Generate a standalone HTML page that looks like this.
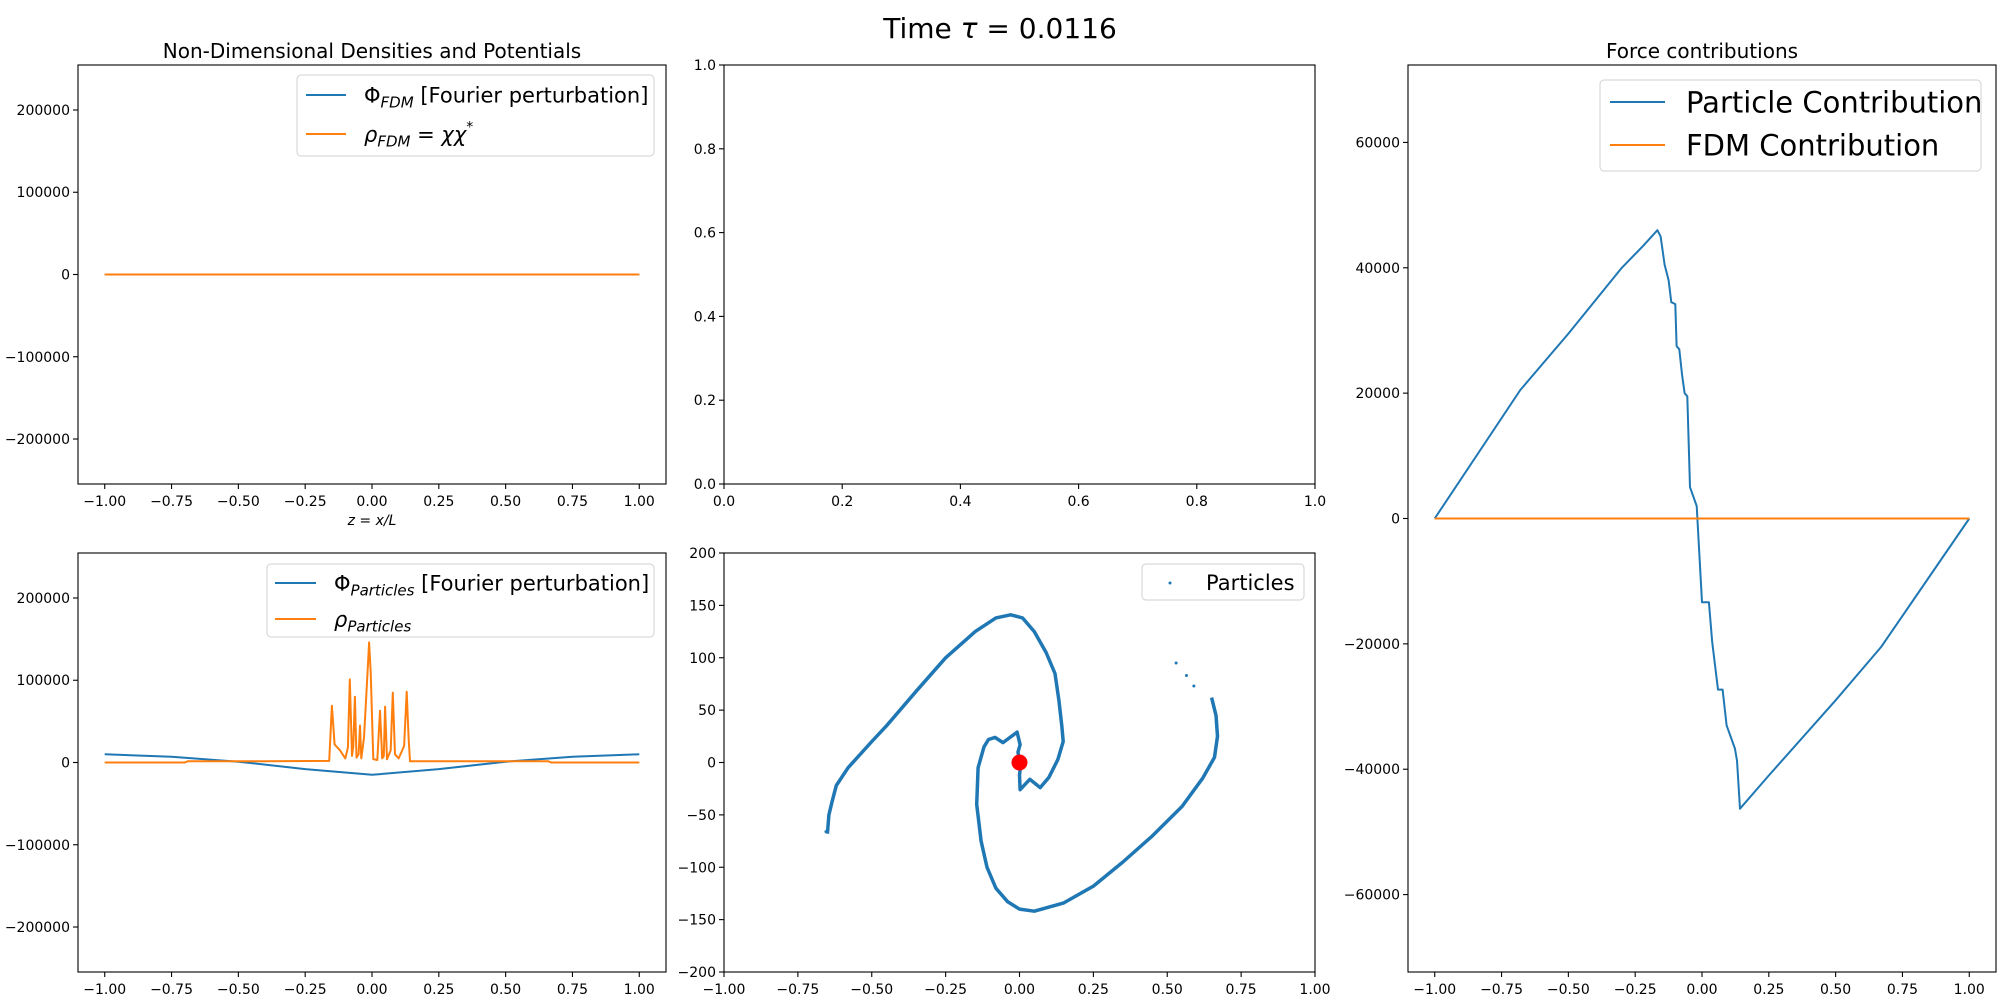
<!DOCTYPE html>
<html><head><meta charset="utf-8">
<style>
html,body{margin:0;padding:0;background:#fff;}
svg{display:block;font-family:"DejaVu Sans","Liberation Sans",sans-serif;}
</style></head>
<body>
<svg id="fig" width="2000" height="1000" viewBox="0 0 2000 1000" xmlns="http://www.w3.org/2000/svg">
<rect width="2000" height="1000" fill="#fff"/>
<text x="1000" y="38" font-size="28" text-anchor="middle">Time <tspan font-style="italic">τ</tspan> = 0.0116</text>
<text x="372" y="58" font-size="20" text-anchor="middle">Non-Dimensional Densities and Potentials</text>
<text x="1702" y="58" font-size="20" text-anchor="middle">Force contributions</text>
<text x="372" y="525" font-size="14" text-anchor="middle" font-style="italic">z = x/L</text>
<g id="layer"></g>
</svg>
<script>
// ---- data ----
const fdmX = [-1, 1];
const fdmPhi = [0, 0];
const fdmRho = [0, 0];
const partPhiX = [-1,-0.75,-0.5,-0.25,0,0.25,0.5,0.75,1];
const partPhiY = [10000,7000,1000,-8000,-15000,-8000,1000,7000,10000];
const partRhoX = [-1,-0.7,-0.69,-0.4,-0.16,-0.15,-0.14,-0.12,-0.1,-0.09,-0.083,-0.075,-0.07,-0.064,-0.058,-0.05,-0.045,-0.04,-0.03,-0.015,-0.011,-0.005,0.005,0.02,0.03,0.038,0.044,0.049,0.056,0.07,0.078,0.086,0.1,0.12,0.13,0.137,0.142,0.3,0.66,0.67,1];
const partRhoY = [0,0,1500,1500,2000,69000,22000,15000,5000,18000,101000,8000,20000,80000,6000,10000,45000,5000,30000,120000,146000,110000,4000,3000,63000,5000,8000,68000,4000,15000,85000,10000,5000,20000,86000,30000,1500,1500,1500,0,0];
const forceX = [-1,-0.68,-0.5,-0.3,-0.22,-0.167,-0.155,-0.14,-0.125,-0.115,-0.1,-0.095,-0.085,-0.075,-0.065,-0.055,-0.045,-0.02,0,0.026,0.038,0.06,0.077,0.092,0.123,0.131,0.142,0.25,0.5,0.67,1];
const forceP = [0,20500,29500,40000,43500,46000,45000,40500,38000,34500,34200,27500,27000,23000,20000,19500,5000,2000,-13350,-13350,-19700,-27300,-27300,-33000,-36700,-38600,-46300,-41000,-29000,-20500,0];
const forceFDMX = [-1, 1];
const forceFDM = [0, 0];
const arm1X = [-0.65,-0.645,-0.635,-0.62,-0.58,-0.5,-0.45,-0.35,-0.25,-0.15,-0.08,-0.03,0.01,0.05,0.09,0.12,0.133,0.143,0.148,0.13,0.1,0.07,0.035,0.002,0.0,0.005];
const arm1Y = [-68,-50,-38,-22,-5,20,35,68,100,125,138,141,138,125,105,85,60,35,20,3,-14,-24,-16,-26,-12,0];
const arm2X = [0.65,0.665,0.67,0.66,0.62,0.55,0.45,0.35,0.25,0.15,0.05,0.0,-0.04,-0.08,-0.11,-0.13,-0.145,-0.14,-0.12,-0.105,-0.083,-0.056,-0.008,0.002,-0.005,0];
const arm2Y = [62,45,25,5,-15,-42,-70,-95,-118,-134,-142,-140,-133,-120,-100,-75,-40,-5,15,22,24,19,29,17,10,0];
const strayX = [0.53,0.565,0.59,-0.648,-0.655];
const strayY = [95,83,73,-60,-66];
const centerX = [0];
const centerY = [0];
const leftYTicks = [-200000,-100000,0,100000,200000];
const lrXTicks = [-1,-0.75,-0.5,-0.25,0,0.25,0.5,0.75,1];
const midTopTicks = [0,0.2,0.4,0.6,0.8,1];
const midBotYTicks = [-200,-150,-100,-50,0,50,100,150,200];
const rightYTicks = [-60000,-40000,-20000,0,20000,40000,60000];

const NS = "http://www.w3.org/2000/svg";
const layer = document.getElementById('layer');
function mk(tag, attrs, parent){const e=document.createElementNS(NS,tag);for(const k in attrs)e.setAttribute(k,attrs[k]);(parent||layer).appendChild(e);return e;}
function fmt(v, d){return (v<0?'\u2212':'')+Math.abs(v).toFixed(d);}

function axes(name, x0,x1,y0,y1, xmin,xmax,ymin,ymax, xt, xd, yt, yd){
  const g = mk('g',{});
  
  
  const sx=v=>x0+(v-xmin)/(xmax-xmin)*(x1-x0);
  const sy=v=>y1-(v-ymin)/(ymax-ymin)*(y1-y0);
  const plot = mk('g',{},g);
  xt.forEach(v=>{const X=sx(v);
    const t=mk('line',{x1:X,x2:X,y1:y1,y2:y1+5,stroke:'#000','stroke-width':1.1},g);
    
    
    const l=mk('text',{x:X,y:y1+22,'font-size':14,'text-anchor':'middle'},g);l.textContent=fmt(v,xd);
    
    });
  yt.forEach(v=>{const Y=sy(v);
    const t=mk('line',{x1:x0-5,x2:x0,y1:Y,y2:Y,stroke:'#000','stroke-width':1.1},g);
    
    
    const l=mk('text',{x:x0-8,y:Y+5,'font-size':14,'text-anchor':'end'},g);l.textContent=fmt(v,yd);
    
    });
  const fr=mk('rect',{x:x0,y:y0,width:x1-x0,height:y1-y0,fill:'none',stroke:'#000','stroke-width':1.1},g);
  
  
  return {g:plot,sx,sy};
}
function line(ax, xs, ys, color, name, w){
  const p = xs.map((x,i)=>ax.sx(x).toFixed(1)+','+ax.sy(ys[i]).toFixed(1)).join(' ');
  const e = mk('polyline',{points:p,fill:'none',stroke:color,'stroke-width':w||2,'stroke-linejoin':'round'},ax.g);
  
  
}
const B='#1f77b4', O='#ff7f0e';

const a1 = axes('fdm-axes',78,666,65,484,-1.1,1.1,-254700,254700,lrXTicks,2,leftYTicks,0);
line(a1, fdmX, fdmPhi, B, 'phi-fdm-line');
line(a1, fdmX, fdmRho, O, 'rho-fdm-line');

const a2 = axes('particles-axes',78,666,553,972,-1.1,1.1,-254700,254700,lrXTicks,2,leftYTicks,0);
line(a2, partPhiX, partPhiY, B, 'phi-particles-line');
line(a2, partRhoX, partRhoY, O, 'rho-particles-line');

axes('empty-axes',724,1315,65,484,0,1,0,1,midTopTicks,1,midTopTicks,1);

const a4 = axes('phase-space-axes',724,1315,553,972,-1,1,-200,200,lrXTicks,2,midBotYTicks,0);
line(a4, arm1X, arm1Y, B, 'particles-arm-1', 3.5);
line(a4, arm2X, arm2Y, B, 'particles-arm-2', 3.5);
strayX.forEach((x,i)=>{const c=mk('circle',{cx:a4.sx(x),cy:a4.sy(strayY[i]),r:1.5,fill:B},a4.g);
  
  });
centerX.forEach((x,i)=>{const c=mk('circle',{cx:a4.sx(x),cy:a4.sy(centerY[i]),r:8,fill:'#ff0000'},a4.g);
  
  });

const a5 = axes('force-axes',1408,1996,65,972,-1.1,1.1,-72350,72350,lrXTicks,2,rightYTicks,0);
line(a5, forceX, forceP, B, 'particle-force-line');
line(a5, forceFDMX, forceFDM, O, 'fdm-force-line');

// legends
function legendBox(name,x,y,w,h){const r=mk('rect',{x:x,y:y,width:w,height:h,rx:4,fill:'#fff','fill-opacity':0.8,stroke:'#d0d0d0','stroke-width':1});
  
  }
function entry(name,x1,x2,y,color,tx,fs,html){
  const l=mk('line',{x1:x1,x2:x2,y1:y,y2:y,stroke:color,'stroke-width':2});
  
  
  const t=mk('text',{x:tx,y:y+fs*0.36,'font-size':fs});
  t.innerHTML=html;
  
  
}
legendBox('fdm-legend',297,75,357,81);
entry('legend-phi-fdm',306,346,95,B,364,21,'Φ<tspan font-style="italic" font-size="15" dy="5">FDM</tspan><tspan dy="-5"> [Fourier perturbation]</tspan>');
entry('legend-rho-fdm',306,346,134,O,364,21,'<tspan font-style="italic">ρ</tspan><tspan font-style="italic" font-size="15" dy="5">FDM</tspan><tspan dy="-5"> = </tspan><tspan font-style="italic">χχ</tspan><tspan font-size="14" dy="-10">*</tspan>');
legendBox('particles-legend',267,564,387,73);
entry('legend-phi-particles',275,316,583,B,334,21,'Φ<tspan font-style="italic" font-size="15" dy="5">Particles</tspan><tspan dy="-5"> [Fourier perturbation]</tspan>');
entry('legend-rho-particles',275,316,619,O,334,21,'<tspan font-style="italic">ρ</tspan><tspan font-style="italic" font-size="15" dy="5">Particles</tspan>');
legendBox('force-legend',1600,80,381,91);
entry('legend-particle-contribution',1610,1665,102,B,1686,29,'Particle Contribution');
entry('legend-fdm-contribution',1610,1665,145,O,1686,29,'FDM Contribution');
legendBox('phase-legend',1142,564,162,36);
const md=mk('circle',{cx:1170,cy:583,r:1.5,fill:B});


const mt=mk('text',{x:1206,y:590,'font-size':21});mt.textContent='Particles';


</script>
</body></html>
